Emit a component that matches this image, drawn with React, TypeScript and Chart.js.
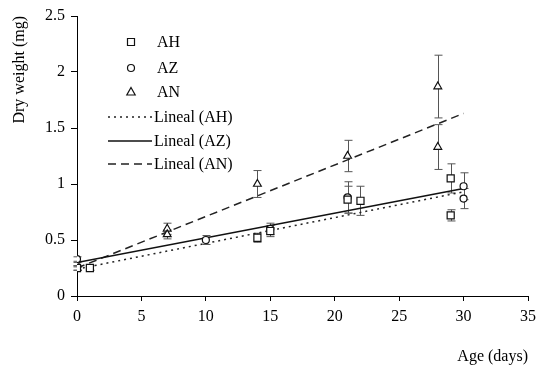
import React, { useEffect, useRef } from 'react';
import { Chart, registerables } from 'chart.js';

Chart.register(...registerables);

// ---- data ----
const ahDays = [0, 1, 14, 15, 21, 22, 29, 29];
const ahWeight = [0.25, 0.25, 0.52, 0.58, 0.86, 0.85, 1.05, 0.72];
const ahError = [0.02, 0.02, 0.04, 0.05, 0.12, 0.13, 0.13, 0.05];

const azDays = [0, 10, 15, 21, 30, 30];
const azWeight = [0.33, 0.5, 0.6, 0.88, 0.98, 0.87];
const azError = [0.02, 0.04, 0.05, 0.14, 0.12, 0.09];

const anDays = [0, 0, 7, 7, 14, 21, 28, 28];
const anWeight = [0.25, 0.28, 0.6, 0.55, 1.0, 1.25, 1.87, 1.33];
const anError = [0.02, 0.02, 0.05, 0.04, 0.12, 0.14, 0.28, 0.2];

const trendDays = [0, 30];
const trendAH = [0.24, 0.93];
const trendAZ = [0.3, 0.96];
const trendAN = [0.25, 1.63];

const xTickStep = 5;
const yTickStep = 0.5;

const FONT = '"Liberation Serif", "Times New Roman", serif';

const pts = (xs: number[], ys: number[]) => xs.map((x, i) => ({ x, y: ys[i] }));

const errorBarsPlugin = {
  id: 'errorBars',
  beforeDatasetsDraw(chart: any) {
    const { ctx } = chart;
    const xs = chart.scales.x;
    const ys = chart.scales.y;
    ctx.save();
    ctx.strokeStyle = '#555';
    ctx.lineWidth = 1;
    chart.data.datasets.forEach((ds: any) => {
      if (!ds.errors) return;
      ds.data.forEach((p: any, i: number) => {
        const e = ds.errors[i];
        const x = Math.round(xs.getPixelForValue(p.x)) + 0.5;
        const yT = ys.getPixelForValue(p.y + e);
        const yB = ys.getPixelForValue(p.y - e);
        ctx.beginPath();
        ctx.moveTo(x, yT);
        ctx.lineTo(x, yB);
        ctx.moveTo(x - 4, yT);
        ctx.lineTo(x + 4, yT);
        ctx.moveTo(x - 4, yB);
        ctx.lineTo(x + 4, yB);
        ctx.stroke();
      });
    });
    ctx.restore();
  },
};

const legendPlugin = {
  id: 'insideLegend',
  afterDraw(chart: any) {
    const { ctx } = chart;
    const ds = chart.data.datasets;
    ctx.save();
    ctx.font = `16px ${FONT}`;
    ctx.fillStyle = '#000';
    ctx.textBaseline = 'middle';
    ctx.textAlign = 'left';
    const markerRows = [42, 68, 92];
    for (let i = 0; i < 3; i++) {
      const y = markerRows[i];
      const x = 131;
      ctx.strokeStyle = '#111';
      ctx.lineWidth = 1.2;
      ctx.beginPath();
      if (ds[i].pointStyle === 'rect') {
        ctx.rect(x - 3.5, y - 3.5, 7, 7);
      } else if (ds[i].pointStyle === 'circle') {
        ctx.arc(x, y, 3.5, 0, Math.PI * 2);
      } else {
        ctx.moveTo(x, y - 4.5);
        ctx.lineTo(x + 4.2, y + 3);
        ctx.lineTo(x - 4.2, y + 3);
        ctx.closePath();
      }
      ctx.stroke();
      ctx.fillText(ds[i].label, 157, y + 1);
    }
    const lineRows = [117, 141, 164];
    for (let i = 0; i < 3; i++) {
      const d = ds[3 + i];
      const y = lineRows[i];
      ctx.strokeStyle = d.borderColor;
      ctx.lineWidth = d.borderWidth;
      ctx.setLineDash(d.borderDash || []);
      ctx.beginPath();
      ctx.moveTo(108, y);
      ctx.lineTo(152, y);
      ctx.stroke();
      ctx.setLineDash([]);
      ctx.fillText(d.label, 154, y + 1);
    }
    ctx.restore();
  },
};

export default function App() {
  const canvasRef = useRef<HTMLCanvasElement | null>(null);

  useEffect(() => {
    if (!canvasRef.current) return;
    Chart.defaults.font.family = FONT;
    Chart.defaults.color = '#000';

    const axisGrid = {
      display: true,
      drawOnChartArea: false,
      drawTicks: true,
      tickLength: 6,
      color: '#000',
      lineWidth: 1,
    };

    const chart = new Chart(canvasRef.current, {
      type: 'scatter',
      data: {
        datasets: [
          {
            label: 'AH',
            data: pts(ahDays, ahWeight),
            errors: ahError,
            pointStyle: 'rect',
            pointRadius: 5,
            borderColor: '#111',
            backgroundColor: 'rgba(255,255,255,1)',
            borderWidth: 1.2,
            showLine: false,
          } as any,
          {
            label: 'AZ',
            data: pts(azDays, azWeight),
            errors: azError,
            pointStyle: 'circle',
            pointRadius: 3.5,
            borderColor: '#111',
            backgroundColor: 'rgba(255,255,255,1)',
            borderWidth: 1.2,
            showLine: false,
          } as any,
          {
            label: 'AN',
            data: pts(anDays, anWeight),
            errors: anError,
            pointStyle: 'triangle',
            pointRadius: 4.5,
            borderColor: '#111',
            backgroundColor: 'rgba(255,255,255,1)',
            borderWidth: 1.2,
            showLine: false,
          } as any,
          {
            label: 'Lineal (AH)',
            type: 'line',
            data: pts(trendDays, trendAH),
            borderColor: '#222',
            borderWidth: 1.5,
            borderDash: [2, 4],
            pointRadius: 0,
            showLine: true,
            fill: false,
          } as any,
          {
            label: 'Lineal (AZ)',
            type: 'line',
            data: pts(trendDays, trendAZ),
            borderColor: '#111',
            borderWidth: 1.5,
            pointRadius: 0,
            showLine: true,
            fill: false,
          } as any,
          {
            label: 'Lineal (AN)',
            type: 'line',
            data: pts(trendDays, trendAN),
            borderColor: '#222',
            borderWidth: 1.5,
            borderDash: [8, 5],
            pointRadius: 0,
            showLine: true,
            fill: false,
          } as any,
        ],
      },
      options: {
        responsive: false,
        animation: false,
        layout: { padding: { left: 0, right: 0, top: 16, bottom: 0 } },
        plugins: {
          legend: { display: false },
          tooltip: { enabled: false },
        },
        scales: {
          x: {
            type: 'linear',
            min: 0,
            max: 35,
            grid: { ...axisGrid, tickLength: 5 },
            border: { display: true, color: '#000', width: 1 },
            ticks: {
              stepSize: xTickStep,
              font: { size: 16, family: FONT },
              color: '#000',
              padding: 6,
              maxRotation: 0,
              callback: (v: any) => `${v}`,
            },
            title: {
              display: true,
              text: 'Age (days)',
              align: 'end',
              font: { size: 16, family: FONT },
              color: '#000',
              padding: { top: 0, bottom: 5 },
            },
            afterFit: (scale: any) => {
              scale.height = 75;
              scale.paddingRight = 10;
              scale.paddingLeft = 0;
            },
          },
          y: {
            type: 'linear',
            min: 0,
            max: 2.5,
            grid: axisGrid,
            border: { display: true, color: '#000', width: 1 },
            ticks: {
              stepSize: yTickStep,
              font: { size: 16, family: FONT },
              color: '#000',
              padding: 6,
              callback: (v: any) => `${v}`,
            },
            title: {
              display: true,
              text: 'Dry weight (mg)',
              align: 'end',
              font: { size: 16, family: FONT },
              color: '#000',
              padding: { top: 10, bottom: 0 },
            },
            afterFit: (scale: any) => {
              scale.width = 77;
            },
          },
        },
      } as any,
      plugins: [errorBarsPlugin, legendPlugin],
    });
    return () => chart.destroy();
  }, []);

  return (
    <div style={{ position: 'absolute', left: 0, top: 0, width: 538, height: 371, background: '#fff' }}>
      <canvas ref={canvasRef} width={538} height={371} style={{ display: 'block' }} />
    </div>
  );
}
